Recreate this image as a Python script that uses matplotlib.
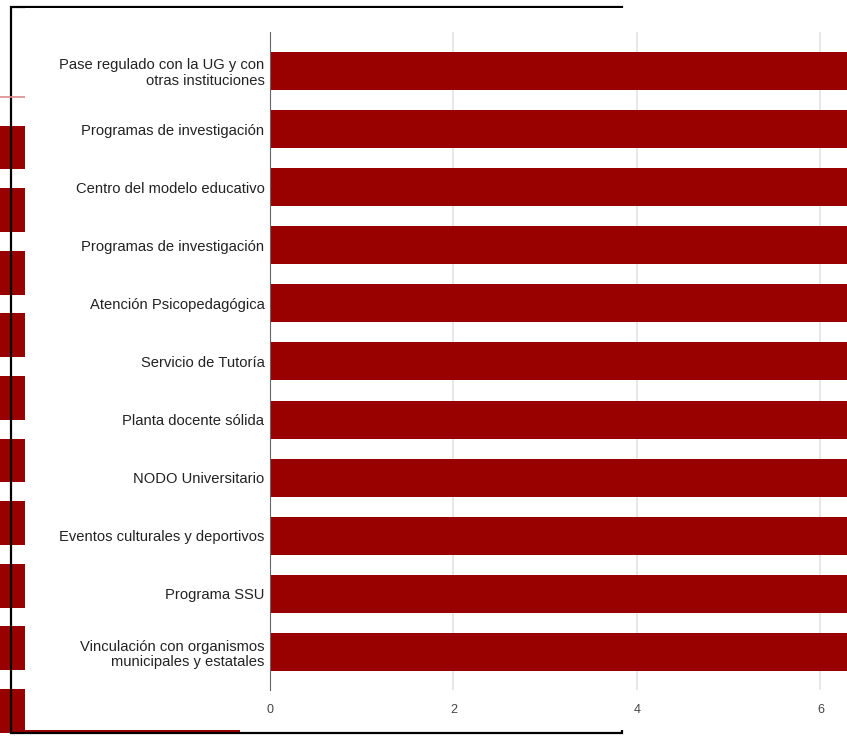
import matplotlib.pyplot as plt
from matplotlib.patches import Rectangle

plt.rcParams['font.family'] = ['Liberation Sans', 'DejaVu Sans']

categories = [
    'Pase regulado con la UG y con\notras instituciones',
    'Programas de investigación',
    'Centro del modelo educativo',
    'Programas de investigación',
    'Atención Psicopedagógica',
    'Servicio de Tutoría',
    'Planta docente sólida',
    'NODO Universitario',
    'Eventos culturales y deportivos',
    'Programa SSU',
    'Vinculación con organismos\nmunicipales y estatales',
]
values = [7, 7, 7, 7, 7, 7, 7, 7, 7, 7, 7]
xticks = [0, 2, 4, 6]

# chart partly hidden behind the front one
bg_values = [6, 6, 6, 6, 6, 6, 6, 6, 6, 2.83]

RED = '#990000'
W, H = 847, 736

fig = plt.figure(figsize=(W / 100, H / 100), dpi=100)

# background chart
ax_bg = fig.add_axes([0, 0, 1, 1])
ax_bg.barh(range(len(bg_values)), bg_values, height=0.7, color=RED)
ax_bg.axhline(-0.8, color='#dd8a8a', lw=1.2)
ax_bg.set_xlim(0, 10)
ax_bg.set_ylim(9.401, -2.356)
ax_bg.axis('off')
ax_bg.add_patch(Rectangle((11 / W, 3 / H), 611 / W, 726 / H, transform=fig.transFigure,
                          fill=False, edgecolor='black', lw=1.6, clip_on=False))

# white panel of the front chart
ax_panel = fig.add_axes([25 / W, 6 / H, 822 / W, 722 / H])
ax_panel.set_facecolor('white')
ax_panel.axis('off')
ax_panel.add_patch(Rectangle((0, 0), 1, 1, transform=ax_panel.transAxes, color='white'))

# front chart
ax = fig.add_axes([270 / W, 46 / H, 577 / W, 658 / H])
ax.patch.set_alpha(0)
y = list(range(len(categories)))
ax.barh(y, values, height=0.654, color=RED, zorder=2)
ax.set_xlim(0, 6.29)
ax.set_ylim(10.654, -0.671)
ax.set_yticks(y)
ax.set_yticklabels(categories, fontsize=10.6, color='#222222', linespacing=1.12)
ax.set_xticks(xticks)
ax.set_xticklabels([str(v) for v in xticks], fontsize=9, color='#444444')
ax.tick_params(axis='y', length=0, pad=4)
ax.tick_params(axis='x', length=0, pad=10)
ax.grid(axis='x', color='#e3e3e3', lw=1.2, zorder=0)
for s in ['top', 'right', 'bottom']:
    ax.spines[s].set_visible(False)
ax.spines['left'].set_color('#666666')
ax.spines['left'].set_zorder(3)

fig.savefig('out.png', dpi=100)
